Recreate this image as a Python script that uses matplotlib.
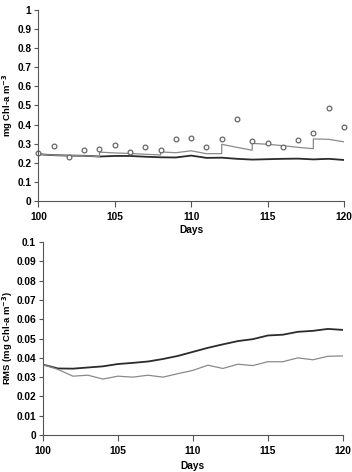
import numpy as np
import matplotlib.pyplot as plt

plt.rcParams['font.family'] = ['Liberation Sans', 'DejaVu Sans']
plt.rcParams['font.weight'] = 'bold'

# top panel: observations (circles)
obs_days = list(range(100, 121))
obs_chl = [0.25, 0.29, 0.232, 0.265, 0.272, 0.295, 0.256, 0.284, 0.265, 0.326, 0.328,
           0.281, 0.326, 0.428, 0.314, 0.304, 0.281, 0.318, 0.354, 0.485, 0.386]

# top panel: free run (dark line)
free_days = list(range(100, 121))
free_chl = [0.245, 0.24, 0.238, 0.237, 0.233, 0.236, 0.236, 0.232, 0.229, 0.228, 0.238,
            0.226, 0.227, 0.221, 0.217, 0.219, 0.221, 0.222, 0.218, 0.221, 0.215]

# top panel: assimilation run (grey line, jumps at update days)
assim_days = [100, 101, 102, 103, 104, 104, 105, 106, 107, 108, 108, 109, 110, 111, 112, 112,
              113, 114, 114, 115, 116, 117, 118, 118, 119, 120]
assim_chl = [0.245, 0.24, 0.238, 0.237, 0.233, 0.256, 0.252, 0.249, 0.245, 0.241, 0.257, 0.253,
             0.263, 0.248, 0.248, 0.297, 0.281, 0.266, 0.302, 0.297, 0.29, 0.281, 0.274, 0.325,
             0.323, 0.31]

# bottom panel: RMS error
rms_days = list(range(100, 121))
rms_free = [0.0365, 0.0345, 0.0344, 0.035, 0.0356, 0.0368, 0.0374, 0.0381, 0.0394, 0.041,
            0.0431, 0.0452, 0.047, 0.0487, 0.0497, 0.0516, 0.052, 0.0535, 0.054, 0.055, 0.0545]
rms_assim = [0.0365, 0.034, 0.0305, 0.031, 0.029, 0.0305, 0.030, 0.031, 0.030, 0.0318,
             0.0335, 0.0362, 0.0345, 0.0367, 0.036, 0.038, 0.038, 0.040, 0.039, 0.0408, 0.041]

dark = '#2b2b2b'
grey = '#8a8a8a'
fs = 7.3

fig = plt.figure(figsize=(3.52, 4.72), dpi=100)
ax1 = fig.add_axes([0.109, 0.574, 0.868, 0.405])
ax2 = fig.add_axes([0.122, 0.0784, 0.852, 0.4086])

ax1.plot(free_days, free_chl, color=dark, lw=1.3)
ax1.plot(assim_days, assim_chl, color=grey, lw=0.9)
ax1.plot(obs_days, obs_chl, 'o', mfc='white', mec='#666666', ms=3.4, mew=0.9, clip_on=False)
ax1.set_ylim(0, 1)
ax1.set_yticks(np.arange(0, 1.01, 0.1))
ax1.set_yticklabels(['0', '0.1', '0.2', '0.3', '0.4', '0.5', '0.6', '0.7', '0.8', '0.9', '1'])
ax1.set_ylabel('mg Chl-a m$^{\\mathbf{-3}}$', fontsize=6.8, fontweight='bold')
ax1.yaxis.set_label_coords(-0.078, 0.5)
ax1.xaxis.set_label_coords(0.5, -0.125)

ax2.plot(rms_days, rms_free, color=dark, lw=1.3)
ax2.plot(rms_days, rms_assim, color=grey, lw=0.9)
ax2.set_ylim(0, 0.1)
ax2.set_yticks(np.arange(0, 0.101, 0.01))
ax2.set_yticklabels(['0', '0.01', '0.02', '0.03', '0.04', '0.05', '0.06', '0.07', '0.08', '0.09', '0.1'])
ax2.set_ylabel('RMS (mg Chl-a m$^{\\mathbf{-3}}$)', fontsize=6.8, fontweight='bold')
ax2.yaxis.set_label_coords(-0.094, 0.5)
ax2.xaxis.set_label_coords(0.5, -0.133)

for ax in (ax1, ax2):
    ax.set_xlim(100, 120)
    ax.set_xticks([100, 105, 110, 115, 120])
    ax.set_xlabel('Days', fontsize=fs, fontweight='bold')
    ax.spines['top'].set_visible(False)
    ax.spines['right'].set_visible(False)
    for s in ('left', 'bottom'):
        ax.spines[s].set_color('#555555')
        ax.spines[s].set_linewidth(0.8)
    ax.tick_params(axis='y', direction='out', length=3, width=0.8, color='#555555',
                   labelsize=fs, pad=2)
    ax.tick_params(axis='x', direction='out', length=4, width=0.8, color='#555555',
                   labelsize=fs, pad=4)
    for lab in ax.get_xticklabels() + ax.get_yticklabels():
        lab.set_fontweight('bold')

fig.savefig('out.png', dpi=100)
